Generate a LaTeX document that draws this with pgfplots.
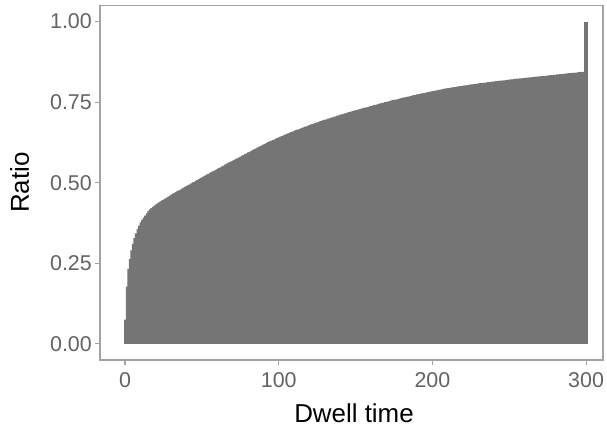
\documentclass[border=0pt]{standalone}
\usepackage{pgfplots}
\pgfplotsset{compat=1.18}
\usepackage{fontspec}
\setmainfont{Liberation Sans}

\definecolor{barfill}{HTML}{757575}
\definecolor{panelline}{HTML}{A3A3A3}
\definecolor{ticktext}{HTML}{636363}

\begin{document}
\begin{tikzpicture}
\begin{axis}[
    name=ax,
    scale only axis,
    width=503bp, height=354.5bp,
    xmin=-16.3, xmax=311,
    ymin=-0.05, ymax=1.05,
    axis line style={draw=panelline, line width=1.1bp},
    tick align=outside,
    major tick length=5bp,
    tick style={draw=panelline, line width=1.1bp},
    xtick={0,100,200,300},
    ytick={0,0.25,0.5,0.75,1},
    xtick pos=bottom, ytick pos=left,
    /pgf/number format/assume math mode=true,
    yticklabel style={/pgf/number format/fixed, /pgf/number format/fixed zerofill,
        /pgf/number format/precision=2},
    tick label style={font=\fontsize{21.5}{24}\selectfont, text=ticktext, inner sep=0pt},
    xticklabel style={anchor=north, yshift=-7bp},
    yticklabel style={anchor=east, xshift=-3bp},
    label style={font=\fontsize{26}{30}\selectfont, text=black},
    xlabel={Dwell time},
    ylabel={Ratio},
    xlabel style={at={(axis description cs:0.505,-0.1777)}, anchor=base},
    ylabel style={at={(axis description cs:-0.1412,0.5)}, anchor=base},
]
% cumulative ratio per dwell time bin
\addplot[ybar, bar width=1.05, fill=barfill, draw=none] coordinates {
(0,0.075)(1,0.178)(2,0.233)(3,0.264)(4,0.290)(5,0.310)(6,0.328)(7,0.343)(8,0.356)(9,0.367)
(10,0.377)(11,0.385)(12,0.392)(13,0.398)(14,0.405)(15,0.412)(16,0.417)(17,0.421)(18,0.425)(19,0.429)
(20,0.433)(21,0.436)(22,0.439)(23,0.442)(24,0.445)(25,0.448)(26,0.451)(27,0.454)(28,0.457)(29,0.460)
(30,0.463)(31,0.466)(32,0.468)(33,0.471)(34,0.474)(35,0.476)(36,0.479)(37,0.482)(38,0.485)(39,0.487)
(40,0.490)(41,0.493)(42,0.495)(43,0.498)(44,0.501)(45,0.503)(46,0.506)(47,0.509)(48,0.511)(49,0.514)
(50,0.517)(51,0.520)(52,0.522)(53,0.525)(54,0.527)(55,0.530)(56,0.533)(57,0.535)(58,0.538)(59,0.540)
(60,0.543)(61,0.546)(62,0.548)(63,0.551)(64,0.553)(65,0.556)(66,0.559)(67,0.561)(68,0.564)(69,0.566)
(70,0.569)(71,0.571)(72,0.574)(73,0.576)(74,0.579)(75,0.581)(76,0.584)(77,0.586)(78,0.589)(79,0.591)
(80,0.594)(81,0.596)(82,0.599)(83,0.601)(84,0.604)(85,0.606)(86,0.609)(87,0.611)(88,0.614)(89,0.616)
(90,0.619)(91,0.621)(92,0.623)(93,0.626)(94,0.628)(95,0.630)(96,0.632)(97,0.634)(98,0.637)(99,0.639)
(100,0.641)(101,0.643)(102,0.645)(103,0.647)(104,0.649)(105,0.651)(106,0.653)(107,0.655)(108,0.657)(109,0.659)
(110,0.661)(111,0.663)(112,0.665)(113,0.666)(114,0.668)(115,0.670)(116,0.672)(117,0.674)(118,0.675)(119,0.677)
(120,0.679)(121,0.681)(122,0.682)(123,0.684)(124,0.686)(125,0.687)(126,0.689)(127,0.691)(128,0.692)(129,0.694)
(130,0.696)(131,0.697)(132,0.699)(133,0.700)(134,0.702)(135,0.703)(136,0.705)(137,0.706)(138,0.708)(139,0.709)
(140,0.711)(141,0.712)(142,0.714)(143,0.715)(144,0.716)(145,0.718)(146,0.719)(147,0.721)(148,0.722)(149,0.724)
(150,0.725)(151,0.726)(152,0.728)(153,0.729)(154,0.730)(155,0.732)(156,0.733)(157,0.734)(158,0.735)(159,0.737)
(160,0.738)(161,0.739)(162,0.741)(163,0.742)(164,0.743)(165,0.745)(166,0.746)(167,0.747)(168,0.748)(169,0.750)
(170,0.751)(171,0.752)(172,0.753)(173,0.755)(174,0.756)(175,0.757)(176,0.758)(177,0.759)(178,0.760)(179,0.762)
(180,0.763)(181,0.764)(182,0.765)(183,0.766)(184,0.767)(185,0.768)(186,0.769)(187,0.771)(188,0.772)(189,0.773)
(190,0.774)(191,0.775)(192,0.776)(193,0.777)(194,0.778)(195,0.779)(196,0.780)(197,0.781)(198,0.782)(199,0.783)
(200,0.784)(201,0.785)(202,0.786)(203,0.787)(204,0.788)(205,0.789)(206,0.790)(207,0.791)(208,0.792)(209,0.793)
(210,0.794)(211,0.794)(212,0.795)(213,0.796)(214,0.797)(215,0.797)(216,0.798)(217,0.799)(218,0.800)(219,0.800)
(220,0.801)(221,0.802)(222,0.802)(223,0.803)(224,0.804)(225,0.805)(226,0.805)(227,0.806)(228,0.807)(229,0.807)
(230,0.808)(231,0.809)(232,0.809)(233,0.810)(234,0.811)(235,0.811)(236,0.812)(237,0.812)(238,0.813)(239,0.814)
(240,0.814)(241,0.815)(242,0.815)(243,0.816)(244,0.817)(245,0.817)(246,0.818)(247,0.818)(248,0.819)(249,0.819)
(250,0.820)(251,0.821)(252,0.821)(253,0.822)(254,0.822)(255,0.823)(256,0.823)(257,0.824)(258,0.824)(259,0.825)
(260,0.825)(261,0.826)(262,0.826)(263,0.827)(264,0.827)(265,0.828)(266,0.828)(267,0.829)(268,0.829)(269,0.830)
(270,0.830)(271,0.831)(272,0.831)(273,0.832)(274,0.832)(275,0.833)(276,0.833)(277,0.834)(278,0.834)(279,0.835)
(280,0.835)(281,0.836)(282,0.836)(283,0.837)(284,0.837)(285,0.838)(286,0.838)(287,0.839)(288,0.839)(289,0.840)
(290,0.840)(291,0.841)(292,0.841)(293,0.842)(294,0.842)(295,0.843)(296,0.843)(297,0.844)(298,0.844)(299,0.845)
};
% last bin (300 and above), drawn wider as in the source
\addplot[ybar, bar width=2.4, fill=barfill, draw=none] coordinates {(299.8,1.000)};
\end{axis}
\pgfresetboundingbox
\path[use as bounding box] ([xshift=-100bp,yshift=-68bp]ax.south west)
    rectangle ([xshift=4bp,yshift=5.5bp]ax.north east);
\end{tikzpicture}
\end{document}
